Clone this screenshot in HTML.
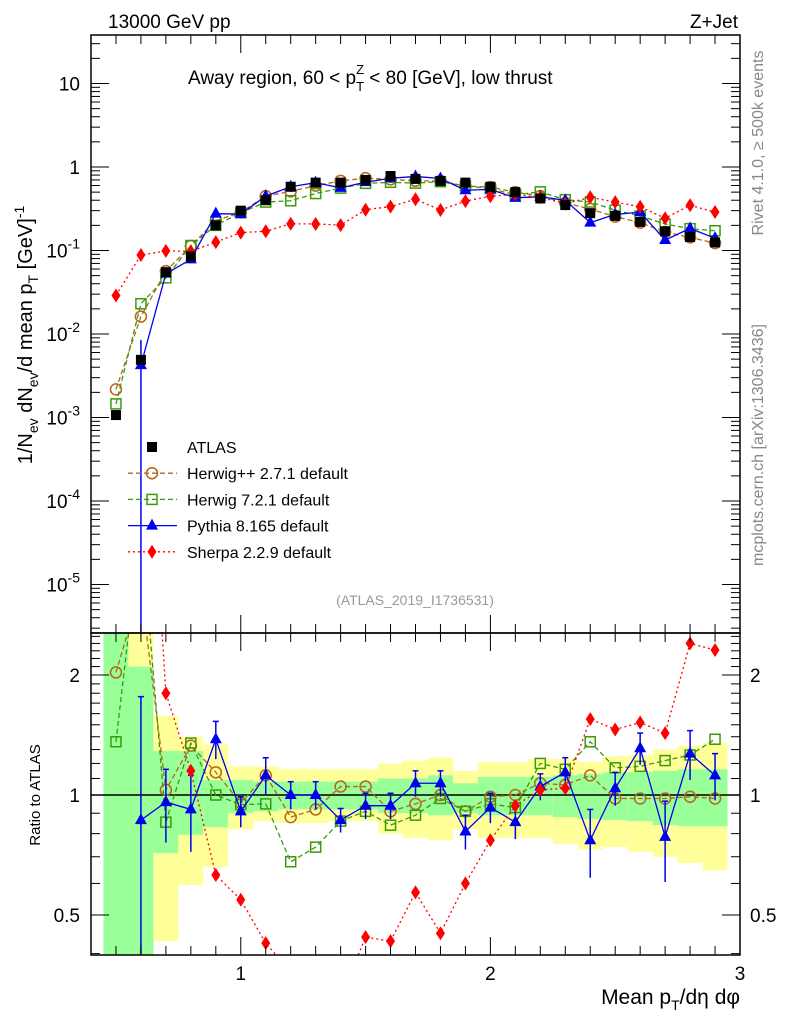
<!DOCTYPE html>
<html><head><meta charset="utf-8"><style>
html,body{margin:0;padding:0;background:#fff;overflow:hidden;width:786px;height:1024px;}
svg{display:block;font-family:"Liberation Sans",sans-serif;}
</style></head><body>
<svg id="c" width="786" height="1024" viewBox="0 0 786 1024" xmlns="http://www.w3.org/2000/svg">
<g id="bands"></g>
<g id="ratioMarks"></g>
<g id="mainMarks"></g>
<g id="axes"></g>
<text x="108" y="28" font-size="19">13000 GeV pp</text>
<text x="738" y="28" font-size="19" text-anchor="end">Z+Jet</text>
<text x="188" y="84" font-size="19">Away region, 60 &lt; p<tspan font-size="13" dy="7">T</tspan><tspan font-size="13" dx="-8" dy="-17">Z</tspan><tspan dy="10"> &lt; 80 [GeV], low thrust</tspan></text>
<text transform="translate(763,143) rotate(-90)" font-size="16" fill="#888" text-anchor="middle">Rivet 4.1.0, ≥ 500k events</text>
<text transform="translate(763,445) rotate(-90)" font-size="16" fill="#888" text-anchor="middle">mcplots.cern.ch [arXiv:1306.3436]</text>
<text transform="translate(32,335) rotate(-90)" font-size="20" text-anchor="middle">1/N<tspan font-size="14" dy="6">ev</tspan><tspan dy="-6"> dN</tspan><tspan font-size="14" dy="6">ev</tspan><tspan dy="-6">/d mean p</tspan><tspan font-size="14" dy="6">T</tspan><tspan dy="-6"> [GeV]</tspan><tspan font-size="14" dy="-8">-1</tspan></text>
<text transform="translate(40,795) rotate(-90)" font-size="15" text-anchor="middle">Ratio to ATLAS</text>
<text x="740" y="1004" font-size="21" text-anchor="end">Mean p<tspan font-size="14" dy="6">T</tspan><tspan dy="-6">/dη dφ</tspan></text>
<text x="415" y="605" font-size="14" fill="#999" text-anchor="middle">(ATLAS_2019_I1736531)</text>
<g id="legend"></g>
</svg>
<script>
const xs = [0.5,0.6,0.7,0.8,0.9,1.0,1.1,1.2,1.3,1.4,1.5,1.6,1.7,1.8,1.9,2.0,2.1,2.2,2.3,2.4,2.5,2.6,2.7,2.8,2.9];
const atlas = [0.00107,0.0049,0.055,0.085,0.2,0.3,0.4,0.58,0.65,0.65,0.7,0.78,0.72,0.68,0.65,0.58,0.5,0.42,0.35,0.28,0.26,0.22,0.17,0.145,0.125];
const herwigpp = [2.03,3.3,1.03,1.33,1.14,0.955,1.12,0.88,0.92,1.05,1.05,0.91,0.95,1.0,0.91,0.99,1.0,1.07,1.06,1.12,0.98,0.98,0.98,0.99,0.98];
const herwig7 = [1.36,4.7,0.855,1.35,1.0,0.946,0.95,0.68,0.74,0.86,0.91,0.84,0.89,0.98,0.91,0.95,0.93,1.2,1.16,1.36,1.17,1.18,1.22,1.26,1.38];
const pythia = [null,0.865,0.96,0.92,1.38,0.91,1.12,1.0,1.0,0.865,0.94,0.94,1.07,1.07,0.81,0.93,0.855,1.05,1.14,0.77,1.04,1.31,0.785,1.27,1.12];
const pythiaErr = [0,0.9,0.2,0.2,0.15,0.08,0.12,0.08,0.08,0.06,0.07,0.07,0.08,0.08,0.08,0.08,0.08,0.08,0.1,0.15,0.1,0.12,0.18,0.18,0.15];
const sherpa = [27,18,1.8,1.15,0.63,0.546,0.425,0.36,0.32,0.31,0.44,0.43,0.57,0.45,0.6,0.77,0.94,1.03,1.04,1.55,1.46,1.52,1.43,2.4,2.31];
const yellowHi = [3,3,1.58,1.40,1.34,1.18,1.18,1.16,1.16,1.16,1.16,1.2,1.22,1.24,1.15,1.21,1.21,1.23,1.23,1.21,1.25,1.26,1.30,1.33,1.35];
const yellowLo = [0.3,0.3,0.43,0.595,0.66,0.82,0.86,0.85,0.85,0.86,0.86,0.8,0.78,0.77,0.82,0.78,0.78,0.78,0.755,0.73,0.74,0.72,0.70,0.675,0.647];
const greenHi = [3,2.1,1.29,1.29,1.09,1.09,1.08,1.08,1.08,1.08,1.08,1.1,1.1,1.12,1.07,1.11,1.11,1.11,1.12,1.13,1.14,1.14,1.15,1.16,1.16];
const greenLo = [0.3,0.3,0.715,0.795,0.83,0.9,0.91,0.92,0.92,0.92,0.92,0.9,0.9,0.89,0.9,0.89,0.89,0.89,0.88,0.87,0.865,0.86,0.84,0.835,0.835];
const mainTicks = ["10","1","10^-1","10^-2","10^-3","10^-4","10^-5"];
const ratioTicks = [2,1,0.5];
const xTicks = [1,2,3];

const NS="http://www.w3.org/2000/svg";
const L=91,R=740,T=35,MB=633,RB=955;
const X=v=>L+(v-0.4)*(R-L)/2.6;
const Y=v=>167-Math.log10(v)*83.5;
const YR=v=>795-Math.log2(v)*120;
function mk(tag,attrs,parent){const e=document.createElementNS(NS,tag);for(const k in attrs)e.setAttribute(k,attrs[k]);parent.appendChild(e);return e;}
const bands=document.getElementById('bands'),rm=document.getElementById('ratioMarks'),mm=document.getElementById('mainMarks'),ax=document.getElementById('axes'),lg=document.getElementById('legend');
const clipR=v=>Math.max(MB,Math.min(RB,v));
xs.forEach((x,i)=>{
  let e=mk('rect',{x:X(x-0.05),y:clipR(YR(yellowHi[i])),width:X(x+0.05)-X(x-0.05),height:clipR(YR(yellowLo[i]))-clipR(YR(yellowHi[i])),fill:'#ffff99'},bands);
  
  
  e=mk('rect',{x:X(x-0.05),y:clipR(YR(greenHi[i])),width:X(x+0.05)-X(x-0.05),height:clipR(YR(greenLo[i]))-clipR(YR(greenHi[i])),fill:'#99ff99'},bands);
  
  
});
function marker(type,cx,cy,col,g){
  let e;
  if(type==='sq') e=mk('rect',{x:cx-5,y:cy-5,width:10,height:10,fill:'#000'},g);
  else if(type==='osq') e=mk('rect',{x:cx-5,y:cy-5,width:10,height:10,fill:'none',stroke:col,'stroke-width':1.5},g);
  else if(type==='oc') e=mk('circle',{cx:cx,cy:cy,r:5.5,fill:'none',stroke:col,'stroke-width':1.5},g);
  else if(type==='tri') e=mk('path',{d:`M${cx},${cy-7}L${cx+6},${cy+4}L${cx-6},${cy+4}Z`,fill:col},g);
  else e=mk('path',{d:`M${cx},${cy-7}L${cx+4.5},${cy}L${cx},${cy+7}L${cx-4.5},${cy}Z`,fill:col},g);
  return e;
}
const series=[
 {name:'herwigpp',vals:herwigpp,col:'#b5651d',type:'oc',dash:'5,3'},
 {name:'herwig7',vals:herwig7,col:'#3a9a0a',type:'osq',dash:'5,3'},
 {name:'pythia',vals:pythia,col:'#0000ee',type:'tri',dash:''},
 {name:'sherpa',vals:sherpa,col:'#ff0000',type:'dia',dash:'2,3'}];
const defs=mk('defs',{},document.getElementById('c'));
const cp=mk('clipPath',{id:'rc'},defs);mk('rect',{x:L,y:MB,width:R-L,height:RB-MB},cp);
const cp2=mk('clipPath',{id:'mc'},defs);mk('rect',{x:L,y:T,width:R-L,height:MB-T},cp2);
rm.setAttribute('clip-path','url(#rc)');mm.setAttribute('clip-path','url(#mc)');
mk('line',{x1:L,y1:YR(1),x2:R,y2:YR(1),stroke:'#000','stroke-width':1.5},rm);
series.forEach(s=>{
  const gR=mk('g',{},rm);
  const gM=mk('g',{},mm);
  let pr=[],pm=[];
  xs.forEach((x,i)=>{const v=s.vals[i];if(v==null)return;pr.push(X(x)+','+YR(v));pm.push(X(x)+','+Y(v*atlas[i]));});
  mk('polyline',{points:pr.join(' '),fill:'none',stroke:s.col,'stroke-width':1.3,'stroke-dasharray':s.dash},gR);
  mk('polyline',{points:pm.join(' '),fill:'none',stroke:s.col,'stroke-width':1.3,'stroke-dasharray':s.dash},gM);
  xs.forEach((x,i)=>{const v=s.vals[i];if(v==null)return;
    if(s.name==='pythia'){const e=pythiaErr[i];
      mk('line',{x1:X(x),x2:X(x),y1:YR(v+e),y2:YR(Math.max(0.05,v-e)),stroke:s.col,'stroke-width':1.5},gR);
      mk('line',{x1:X(x)-3,x2:X(x)+3,y1:YR(v+e),y2:YR(v+e),stroke:s.col,'stroke-width':1.5},gR);}
    let e1=marker(s.type,X(x),YR(v),s.col,gR);
    
    
    let e2=marker(s.type,X(x),Y(v*atlas[i]),s.col,gM);
    
    
  });
});
mk('line',{x1:X(0.6),x2:X(0.6),y1:Y(0.0085),y2:MB,stroke:'#0000ee','stroke-width':1.5},mm);
const gA=mk('g',{},mm);
xs.forEach((x,i)=>{const e=marker('sq',X(x),Y(atlas[i]),'#000',gA);
  
  });
mk('rect',{x:L,y:T,width:R-L,height:MB-T,fill:'none',stroke:'#000','stroke-width':1.5},ax);
mk('rect',{x:L,y:MB,width:R-L,height:RB-MB,fill:'none',stroke:'#000','stroke-width':1.5},ax);
for(let v=0.5;v<3.0;v+=0.1){const big=Math.abs(v-Math.round(v))<0.01;const h=big?18:9;
  [[T,1],[MB,-1],[MB,1],[RB,-1]].forEach(([y,d])=>mk('line',{x1:X(v),x2:X(v),y1:y,y2:y+d*h,stroke:'#000','stroke-width':1},ax));}
xTicks.forEach(v=>{const t=mk('text',{x:X(v),y:980,'font-size':19,'text-anchor':'middle'},ax);t.textContent=v;
  
  });
for(let d=-6;d<=1;d++){for(let m=1;m<10;m++){const v=m*Math.pow(10,d);const y=Y(v);if(y<T||y>MB)continue;const h=m===1?18:9;
  mk('line',{x1:L,x2:L+h,y1:y,y2:y,stroke:'#000'},ax);mk('line',{x1:R,x2:R-h,y1:y,y2:y,stroke:'#000'},ax);}}
mainTicks.forEach((s,i)=>{const y=Y(Math.pow(10,1-i))+7;const t=mk('text',{x:80,y:y,'font-size':19,'text-anchor':'end'},ax);
  
  
  if(s.indexOf('^')<0)t.textContent=s;else{const p=s.split('^');t.textContent=p[0];const ts=mk('tspan',{'font-size':14,dy:-9},t);ts.textContent=p[1];}});
for(let v=0.4;v<=2.6;v+=0.1){const y=YR(v);if(y<MB||y>RB)continue;const big=[0.5,1,2].some(b=>Math.abs(b-v)<0.01);const h=big?18:9;
  mk('line',{x1:L,x2:L+h,y1:y,y2:y,stroke:'#000'},ax);mk('line',{x1:R,x2:R-h,y1:y,y2:y,stroke:'#000'},ax);}
ratioTicks.forEach(v=>{[[80,'end'],[750,'start']].forEach(([x,a])=>{const t=mk('text',{x:x,y:YR(v)+7,'font-size':19,'text-anchor':a},ax);t.textContent=v;
  
  });});
const leg=[['ATLAS','sq','#000',null],['Herwig++ 2.7.1 default','oc','#b5651d','5,3'],['Herwig 7.2.1 default','osq','#3a9a0a','5,3'],['Pythia 8.165 default','tri','#0000ee',''],['Sherpa 2.2.9 default','dia','#ff0000','2,3']];
leg.forEach((l,i)=>{const y=447+i*26.2;const g=mk('g',{},lg);
  
  
  if(l[3]!==null)mk('line',{x1:128,x2:177,y1:y,y2:y,stroke:l[2],'stroke-width':1.3,'stroke-dasharray':l[3]},g);
  marker(l[1],152,y,l[2],g);
  const t=mk('text',{x:187,y:y+6,'font-size':16},g);t.textContent=l[0];});
</script>
</body></html>
